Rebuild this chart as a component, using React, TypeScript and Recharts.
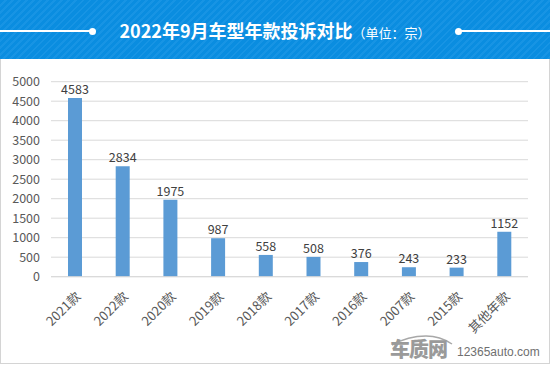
import React from "react";
import { BarChart, Bar, XAxis, YAxis, CartesianGrid, LabelList } from "recharts";

const categories = ["2021款", "2022款", "2020款", "2019款", "2018款", "2017款", "2016款", "2007款", "2015款", "其他年款"];
const complaints = [4583, 2834, 1975, 987, 558, 508, 376, 243, 233, 1152];
const yTicks = [0, 500, 1000, 1500, 2000, 2500, 3000, 3500, 4000, 4500, 5000];

const data = categories.map((name, i) => ({ name, value: complaints[i] }));

const FONT = "'Noto Sans CJK SC', 'Noto Sans', sans-serif";

export default function App() {
  return (
    <div style={{ position: "fixed", left: 0, top: 0, width: 550, height: 365, background: "#fff", fontFamily: FONT, overflow: "hidden" }}>
      <div
        style={{
          position: "absolute", left: 0, top: 0, width: 550, height: 59,
          background: "repeating-linear-gradient(135deg, #0a8de0 0px, #0a8de0 3px, #1794e4 3px, #1794e4 5px)",
        }}
      >
        <div style={{ position: "absolute", left: 0, top: 30, width: 92, height: 2, background: "#fff" }} />
        <div style={{ position: "absolute", left: 89, top: 27.5, width: 7, height: 7, borderRadius: 4, background: "#fff" }} />
        <div style={{ position: "absolute", left: 458, top: 30, width: 92, height: 2, background: "#fff" }} />
        <div style={{ position: "absolute", left: 455, top: 27.5, width: 7, height: 7, borderRadius: 4, background: "#fff" }} />
        <div style={{ position: "absolute", left: 100, width: 350, top: 15, textAlign: "center", color: "#fff", whiteSpace: "nowrap", lineHeight: "30px" }}>
          <span style={{ fontSize: 18, fontWeight: 700 }}>2022年9月车型年款投诉对比</span>
          <span style={{ fontSize: 13 }}>（单位：宗）</span>
        </div>
      </div>
      <div style={{ position: "absolute", left: 0, top: 59, width: 548, height: 304, border: "1px solid #d4d4d4", borderTop: "none" }} />
      <div style={{ position: "absolute", left: 0, top: 60 }}>
        <BarChart width={550} height={305} data={data} margin={{ top: 21.7, right: 22, left: 0, bottom: 0 }}>
          <CartesianGrid vertical={false} stroke="#d9d9d9" strokeWidth={1} />
          <XAxis
            dataKey="name"
            height={88.3}
            interval={0}
            axisLine={{ stroke: "#d9d9d9" }}
            tickLine={false}
            tickMargin={8}
            angle={-45}
            textAnchor="end"
            tick={{ fontSize: 13, fill: "#595959", fontFamily: FONT }}
          />
          <YAxis
            width={51}
            domain={[0, 5000]}
            ticks={yTicks}
            interval={0}
            axisLine={false}
            tickLine={false}
            tickMargin={5}
            tick={{ fontSize: 12.5, fill: "#595959", fontFamily: FONT }}
          />
          <Bar dataKey="value" fill="#5b9bd5" barSize={14} isAnimationActive={false}>
            <LabelList dataKey="value" position="top" offset={4} style={{ fontSize: 12.5, fill: "#404040", fontFamily: FONT }} />
          </Bar>
        </BarChart>
      </div>
      <svg style={{ position: "absolute", left: 388, top: 334 }} width={70} height={12}>
        <path d="M4 11 Q 20 2 38 2 Q 52 2 64 10" fill="none" stroke="#a8a8a8" strokeWidth={1.5} />
      </svg>
      <div style={{ position: "absolute", left: 390, top: 339, color: "#9a9a9a", fontSize: 20, fontWeight: 900, letterSpacing: -1, lineHeight: "20px" }}>车质网</div>
      <div style={{ position: "absolute", left: 457, top: 345, color: "#6f6f6f", fontSize: 12, lineHeight: "14px", fontFamily: "'Liberation Sans', Arial, sans-serif" }}>12365auto.com</div>
    </div>
  );
}
